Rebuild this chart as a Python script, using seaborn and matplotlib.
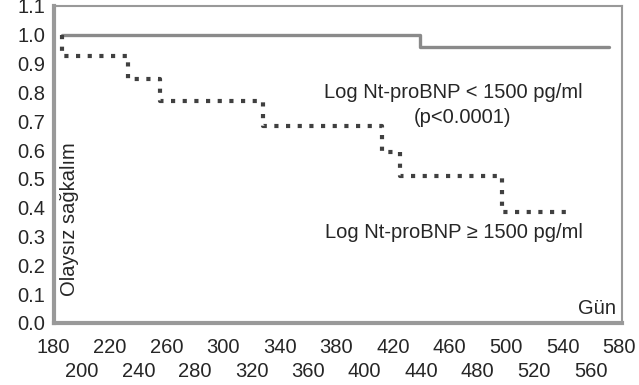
import numpy as np
import pandas as pd
import matplotlib
matplotlib.use("Agg")
import matplotlib.pyplot as plt
import seaborn as sns

# Kaplan-Meier steps
low_days = [186, 439, 573]
low_surv = [1.0, 0.958, 0.958]
high_days = [186, 186, 233, 255, 328, 412, 425, 497, 543]
high_surv = [1.0, 0.927, 0.847, 0.771, 0.684, 0.594, 0.51, 0.385, 0.385]

major_ticks = [180, 220, 260, 300, 340, 380, 420, 460, 500, 540, 580]
minor_ticks = [200, 240, 280, 320, 360, 400, 440, 480, 520, 560]
y_ticks = [0.0, 0.1, 0.2, 0.3, 0.4, 0.5, 0.6, 0.7, 0.8, 0.9, 1.0, 1.1]

low_df = pd.DataFrame({'gun': low_days, 'surv': low_surv})
high_df = pd.DataFrame({'gun': high_days, 'surv': high_surv})

sns.set_style("white")
plt.rcParams['font.family'] = ['Liberation Sans', 'DejaVu Sans']
fs = 14.5

fig = plt.figure(figsize=(6.39, 3.85), dpi=100)
ax = fig.add_axes([53.5 / 639, 1 - 323 / 385, (622 - 53.5) / 639, (323 - 6) / 385])

sns.lineplot(data=low_df, x='gun', y='surv', ax=ax, color='#8a8a8a', lw=2.4,
             drawstyle='steps-post', estimator=None, sort=False)
sns.lineplot(data=high_df, x='gun', y='surv', ax=ax, color='#404040', lw=3,
             linestyle=(0, (1, 1.8)), drawstyle='steps-post', estimator=None, sort=False)

ax.set_xlim(180, 582)
ax.set_ylim(0, 1.1)
ax.set_xlabel('')
ax.set_ylabel('')

ax.set_yticks(y_ticks)
ax.set_yticklabels([f'{v:.1f}' for v in y_ticks])
ax.set_xticks(major_ticks)
ax.set_xticklabels([str(v) for v in major_ticks])
ax.set_xticks(minor_ticks, minor=True)
ax.set_xticklabels([str(v) for v in minor_ticks], minor=True)

ax.tick_params(axis='y', which='major', labelsize=fs, length=4, width=1.5,
               color='#999999', direction='inout', pad=4)
ax.tick_params(axis='x', which='major', labelsize=fs, length=4, width=1.5,
               color='#999999', direction='inout', pad=8.5)
ax.tick_params(axis='x', which='minor', labelsize=fs, length=4, width=1.5,
               color='#999999', direction='inout', pad=26)

for side in ['left', 'bottom']:
    ax.spines[side].set_color('#999999')
    ax.spines[side].set_linewidth(3)
for side in ['top', 'right']:
    ax.spines[side].set_color('#999999')
    ax.spines[side].set_linewidth(1.5)

ax.text(463, 0.80, 'Log Nt-proBNP < 1500 pg/ml', fontsize=fs, ha='center', va='center')
ax.text(469, 0.712, '(p<0.0001)', fontsize=fs, ha='center', va='center')
ax.text(463, 0.313, 'Log Nt-proBNP \u2265 1500 pg/ml', fontsize=fs, ha='center', va='center')
ax.text(564, 0.052, 'Gün', fontsize=fs, ha='center', va='center')
ax.text(191, 0.36, 'Olaysız sağkalım', fontsize=fs, ha='center', va='center', rotation=90)

fig.savefig('out.png', dpi=100)
